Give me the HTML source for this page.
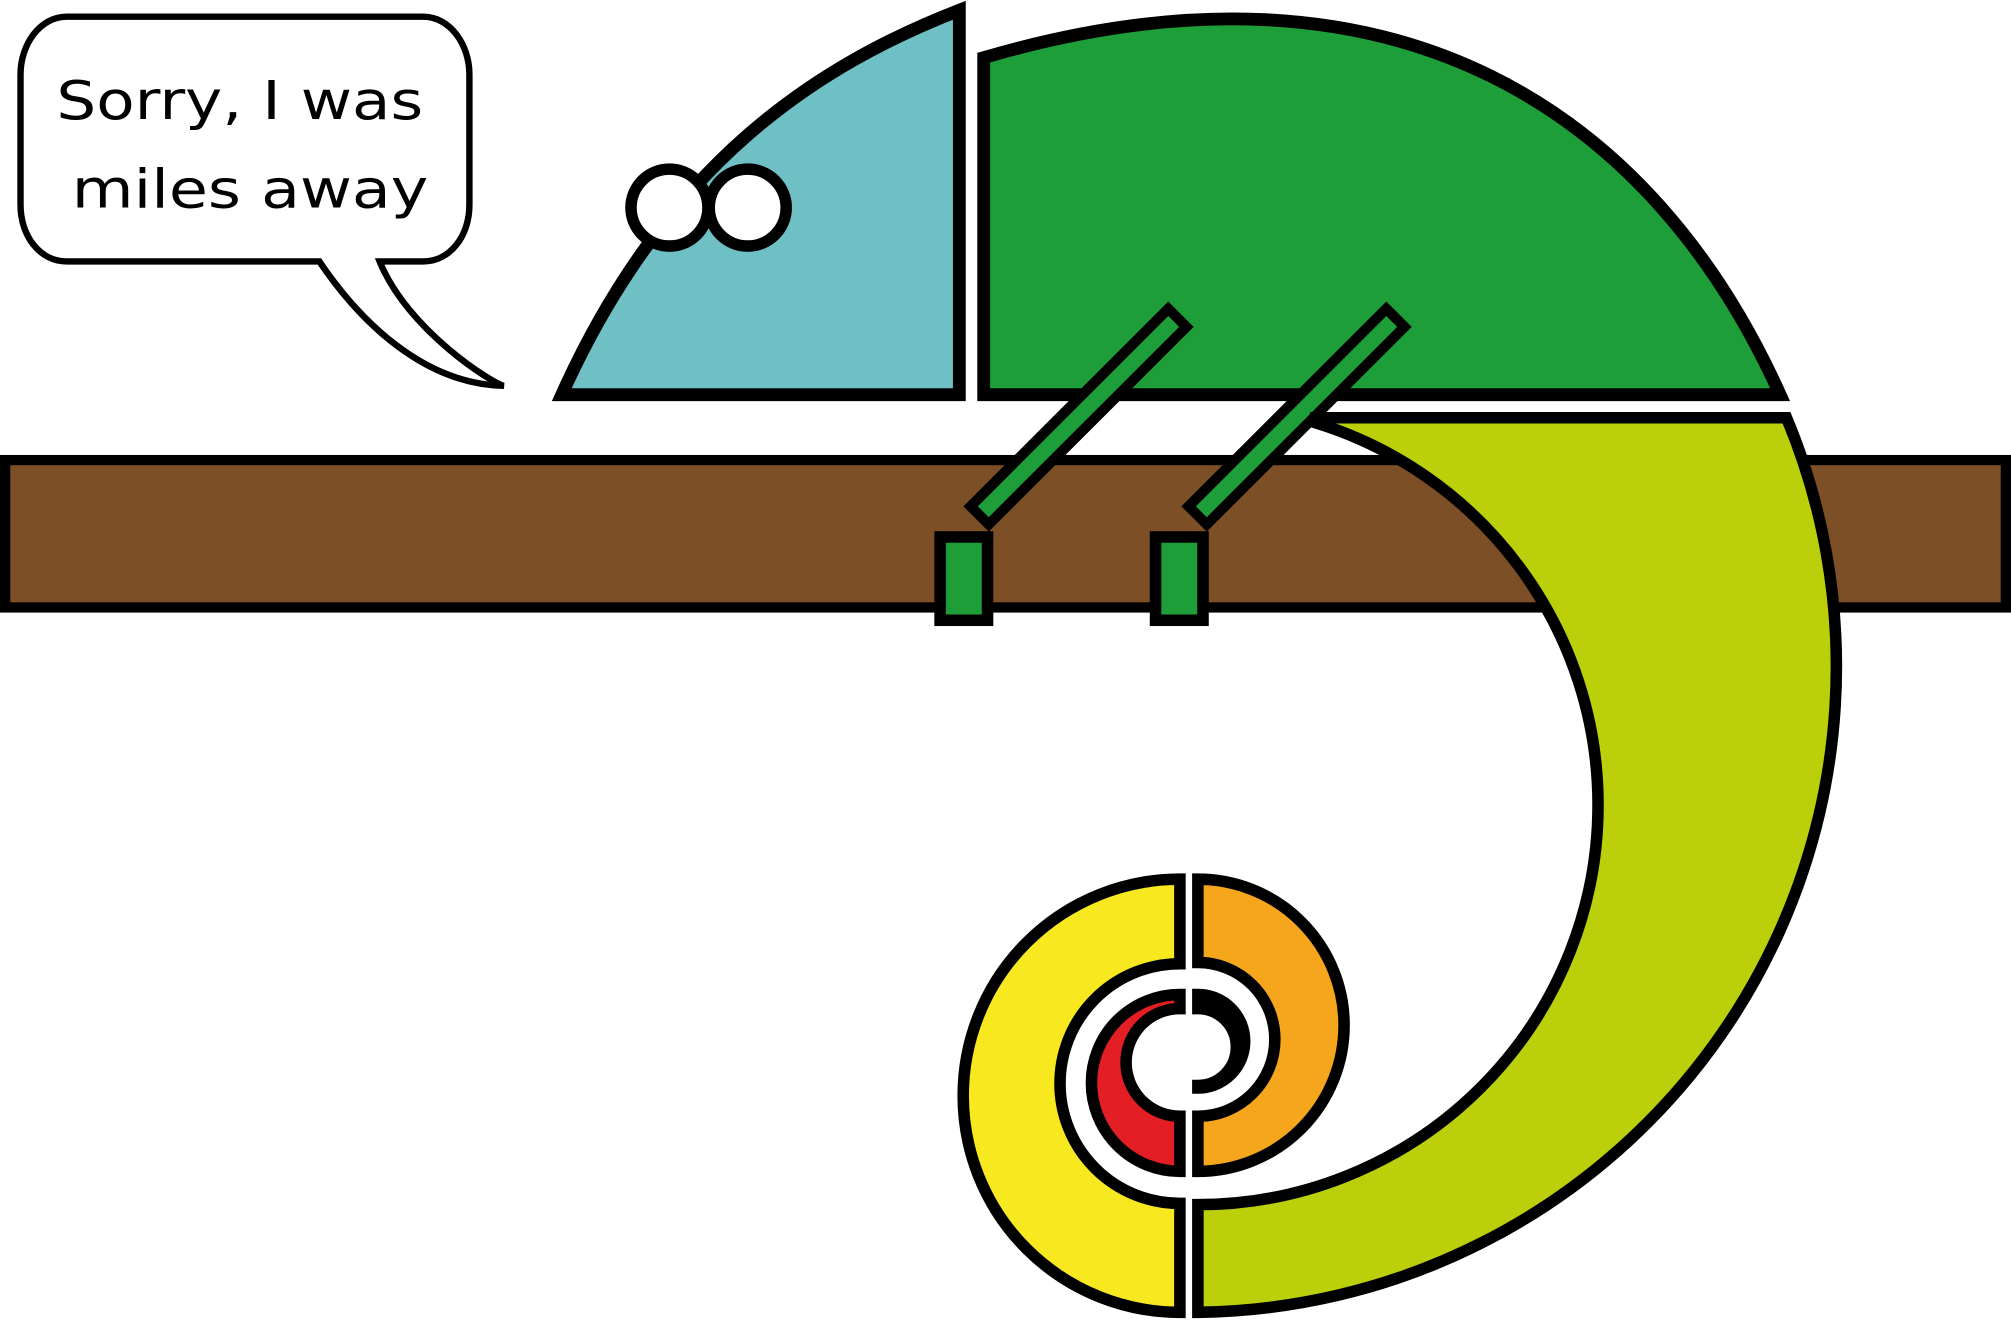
<!DOCTYPE html>
<html><head><style>html,body{margin:0;padding:0;background:#fff}svg{display:block}</style></head>
<body>
<svg width="2011" height="1320" viewBox="0 0 1568 1030" preserveAspectRatio="none" xmlns="http://www.w3.org/2000/svg">
<!-- branch -->
<rect x="4" y="359" width="1560" height="115" fill="#7D4F27" stroke="#000" stroke-width="8"/>
<!-- speech bubble -->
<path d="M52,13 H330 C351,13 366,35 366,58 V160 C366,184 351,204 330,204 H296 C318,258 385,300 393,301 C330,300 280,250 249,204 H52 C31,204 16,184 16,160 V58 C16,35 31,13 52,13 Z" fill="#fff" stroke="#000" stroke-width="5"/>
<text x="44" y="93" font-family="DejaVu Sans, Liberation Sans, sans-serif" font-size="42" textLength="286" lengthAdjust="spacingAndGlyphs">Sorry, I was</text>
<text x="56" y="162" font-family="DejaVu Sans, Liberation Sans, sans-serif" font-size="42" textLength="278" lengthAdjust="spacingAndGlyphs">miles away</text>
<!-- head -->
<path d="M748,8 V308 H438 C520,125 640,50 748,8 Z" fill="#6EC0C5" stroke="#000" stroke-width="10"/>
<circle cx="522" cy="162" r="30" fill="#fff" stroke="#000" stroke-width="9"/>
<circle cx="583" cy="162" r="30" fill="#fff" stroke="#000" stroke-width="9"/>
<!-- body -->
<path d="M767,45 V308 H1388 C1290,90 1090,-50 767,45 Z" fill="#1E9E38" stroke="#000" stroke-width="10"/>
<!-- legs -->
<g transform="translate(918,248) rotate(45)">
<rect x="-10" y="0" width="20" height="218" fill="#1E9E38" stroke="#000" stroke-width="8"/>
</g>
<g transform="translate(1088,248) rotate(45)">
<rect x="-10" y="0" width="20" height="218" fill="#1E9E38" stroke="#000" stroke-width="8"/>
</g>
<rect x="733" y="419" width="37" height="65" fill="#1E9E38" stroke="#000" stroke-width="9"/>
<rect x="901" y="419" width="37" height="65" fill="#1E9E38" stroke="#000" stroke-width="9"/>
<!-- tail -->
<path d="M1026,326 L1393,326 A504,504 0 0 1 934,1024 L934,940 A312,312 0 0 0 1246,628 A312,312 0 0 0 1026,330 Z" fill="#BBCF0A" stroke="#000" stroke-width="9"/>
<!-- spiral -->
<path d="M920,686 A169,169 0 0 0 920,1024 L920,939 A93,93 0 0 1 920,752 Z" fill="#F8E81F" stroke="#000" stroke-width="9"/>
<path d="M934,686 A114,114 0 0 1 934,914 L934,871 A60,60 0 0 0 934,751 Z" fill="#F5A61D" stroke="#000" stroke-width="9"/>
<path d="M920,776 A69,69 0 0 0 920,914 L920,871 A42,42 0 0 1 920,787 Z" fill="#E31E24" stroke="#000" stroke-width="9"/>
<path d="M934,776 A36,36 0 0 1 934,849 L934,847 A29,29 0 0 0 934,787 Z" fill="#000" stroke="#000" stroke-width="9"/>
</svg>
</body></html>
